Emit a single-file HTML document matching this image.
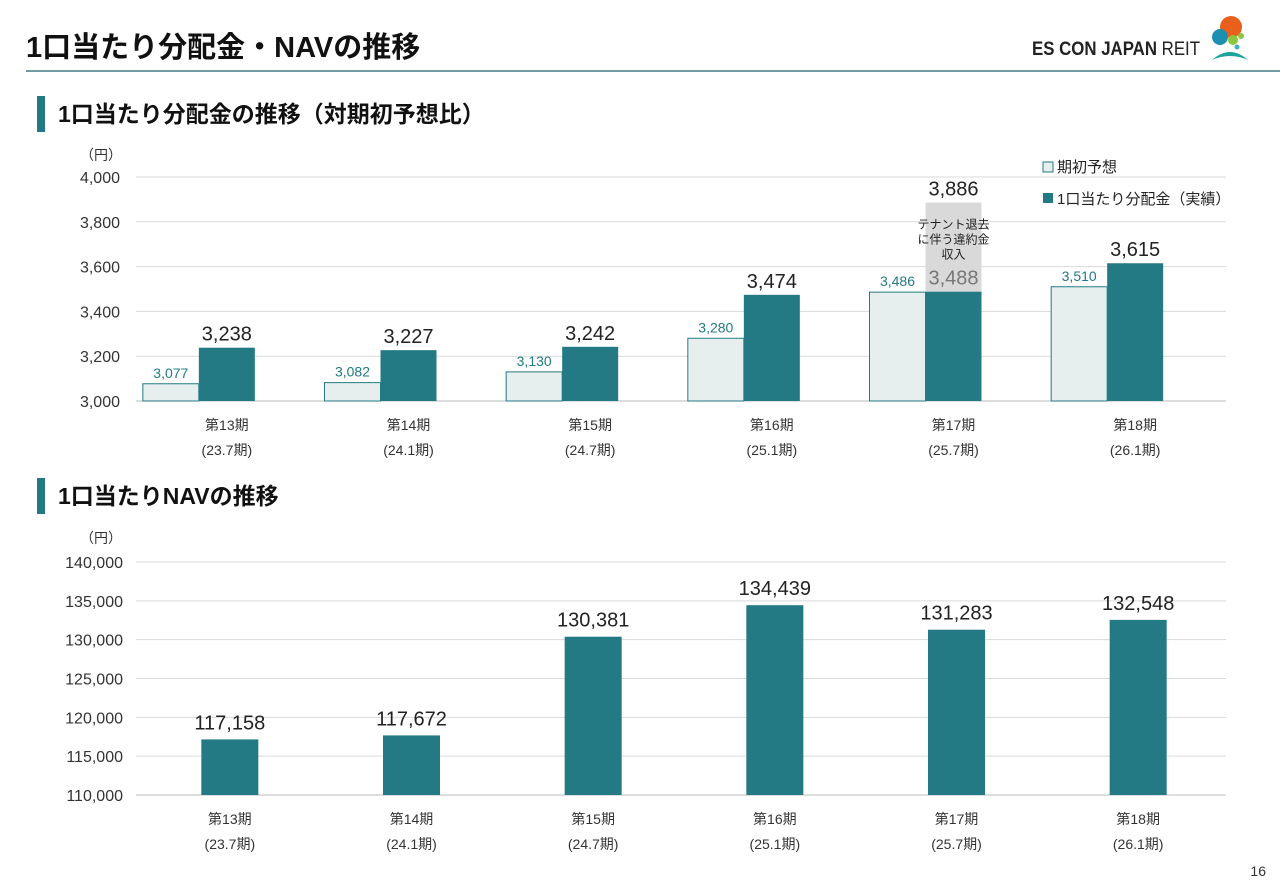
<!DOCTYPE html>
<html><head><meta charset="utf-8">
<style>
body{margin:0;width:1280px;height:886px;background:#fff;overflow:hidden;font-family:"Liberation Sans","Noto Sans CJK JP",sans-serif;}
svg text{font-family:"Liberation Sans","Noto Sans CJK JP",sans-serif;}
</style></head><body>
<svg width="1280" height="886" xmlns="http://www.w3.org/2000/svg" id="s">
<text x="26" y="57" font-size="29" font-weight="bold" fill="#111">1口当たり分配金・NAVの推移</text>
<line x1="26" y1="71" x2="1280" y2="71" stroke="#6f9ca3" stroke-width="2"/>
<g>
<text x="1032" y="55" font-size="19" fill="#222" textLength="168" lengthAdjust="spacingAndGlyphs"><tspan font-weight="bold">ES CON JAPAN</tspan> REIT</text>
<circle cx="1231" cy="27" r="11" fill="#e8601c"/>
<circle cx="1220" cy="37" r="8" fill="#1d8fb0"/>
<circle cx="1233" cy="40" r="5" fill="#8cc63f"/>
<circle cx="1241" cy="36" r="3" fill="#8cc63f"/>
<circle cx="1237" cy="47" r="2.5" fill="#3bb3b8"/>
<path d="M1212 60 Q1230 44 1248 60 Q1230 52 1212 60Z" fill="#1ba39c"/>
</g>
<rect x="37" y="96" width="8" height="36" fill="#237a84"/>
<text x="58" y="122" font-size="23" font-weight="bold" fill="#111">1口当たり分配金の推移（対期初予想比）</text>
<rect x="37" y="478" width="8" height="36" fill="#237a84"/>
<text x="58" y="504" font-size="23" font-weight="bold" fill="#111">1口当たりNAVの推移</text>
<text x="1266" y="876" font-size="14" text-anchor="end" fill="#333">16</text>
<g id="c1"></g><g id="c2"></g>
</svg>
<script>
const cats=["第13期","第14期","第15期","第16期","第17期","第18期"];
const subs=["(23.7期)","(24.1期)","(24.7期)","(25.1期)","(25.7期)","(26.1期)"];
const forecast=[3077,3082,3130,3280,3486,3510];
const actual=[3238,3227,3242,3474,3488,3615];
const extra=[0,0,0,0,398,0];
const dTicks=[3000,3200,3400,3600,3800,4000];
const nav=[117158,117672,130381,134439,131283,132548];
const nTicks=[110000,115000,120000,125000,130000,135000,140000];
const NS="http://www.w3.org/2000/svg";
function el(p,t,a,txt){const e=document.createElementNS(NS,t);for(const k in a)e.setAttribute(k,a[k]);if(txt!==undefined)e.textContent=txt;p.appendChild(e);return e;}
const fmt=v=>v.toLocaleString('en-US');
const X0=136,X1=1226,step=(X1-X0)/6;
const cx=i=>X0+step*(i+0.5)-12;
// chart 1
const c1=document.getElementById('c1');
const y1=v=>401-(v-3000)*0.224;
el(c1,'text',{x:80,y:160,'font-size':14,fill:'#333'},'（円）');
dTicks.forEach(t=>{
 const l=el(c1,'line',{x1:X0,x2:X1,y1:y1(t),y2:y1(t),stroke:t==3000?'#bbb':'#d9d9d9'});
 
 const tx=el(c1,'text',{x:120,y:y1(t)+6,'font-size':16,'text-anchor':'end',fill:'#333'},fmt(t));
 
});
cats.forEach((c,i)=>{
 const x=cx(i)-16,w=56;
 const b1=el(c1,'rect',{x:x-w,y:y1(forecast[i]),width:w,height:401-y1(forecast[i]),fill:'#e6efee',stroke:'#237a84','stroke-width':1});
 
 const top=actual[i]+extra[i];
 if(extra[i]){const g=el(c1,'rect',{x:x,y:y1(top),width:w,height:y1(actual[i])-y1(top),fill:'#d9d9d9'});
  
  ['テナント退去','に伴う違約金','収入'].forEach((s,k)=>{const t=el(c1,'text',{x:x+w/2,y:y1(top)+26+k*15,'font-size':12,'text-anchor':'middle',fill:'#222'},s);});
  const t2=el(c1,'text',{x:x+w/2,y:y1(actual[i])-7,'font-size':20,'text-anchor':'middle',fill:'#777'},fmt(actual[i]));
 }
 const b2=el(c1,'rect',{x:x,y:y1(actual[i]),width:w,height:401-y1(actual[i]),fill:'#237a84'});
 
 const lt=el(c1,'text',{x:x-w/2,y:y1(forecast[i])-6,'font-size':14,'text-anchor':'middle',fill:'#237a84'},fmt(forecast[i]));
 
 const at=el(c1,'text',{x:x+w/2,y:y1(top)-7,'font-size':20,'text-anchor':'middle',fill:'#222'},fmt(top));
 
 const cl=el(c1,'text',{x:x+28,y:430,'font-size':14,'text-anchor':'middle',fill:'#333'},c);
 
 const sl=el(c1,'text',{x:x+28,y:455,'font-size':14,'text-anchor':'middle',fill:'#333'},subs[i]);
 
});
const lg1=el(c1,'rect',{x:1043,y:162,width:10,height:10,fill:'#e6efee',stroke:'#237a84'});

const lt1=el(c1,'text',{x:1057,y:172,'font-size':15,fill:'#222'},'期初予想');

const lg2=el(c1,'rect',{x:1043,y:193,width:10,height:10,fill:'#237a84'});

const lt2=el(c1,'text',{x:1057,y:204,'font-size':15,fill:'#222'},'1口当たり分配金（実績）');

// chart 2
const c2=document.getElementById('c2');
const y2=v=>795-(v-110000)*(233/30000);
el(c2,'text',{x:80,y:543,'font-size':14,fill:'#333'},'（円）');
nTicks.forEach(t=>{
 const l=el(c2,'line',{x1:X0,x2:X1,y1:y2(t),y2:y2(t),stroke:t==110000?'#bbb':'#d9d9d9'});
 
 const tx=el(c2,'text',{x:123,y:y2(t)+6,'font-size':16,'text-anchor':'end',fill:'#333'},fmt(t));
 
});
cats.forEach((c,i)=>{
 const x=cx(i)+15,w=57;
 const b=el(c2,'rect',{x:x-w/2,y:y2(nav[i]),width:w,height:795-y2(nav[i]),fill:'#237a84'});
 
 const t=el(c2,'text',{x:x,y:y2(nav[i])-10,'font-size':20,'text-anchor':'middle',fill:'#222'},fmt(nav[i]));
 
 const cl=el(c2,'text',{x:x,y:824,'font-size':14,'text-anchor':'middle',fill:'#333'},c);
 
 const sl=el(c2,'text',{x:x,y:849,'font-size':14,'text-anchor':'middle',fill:'#333'},subs[i]);
 
});
</script>
</body></html>
